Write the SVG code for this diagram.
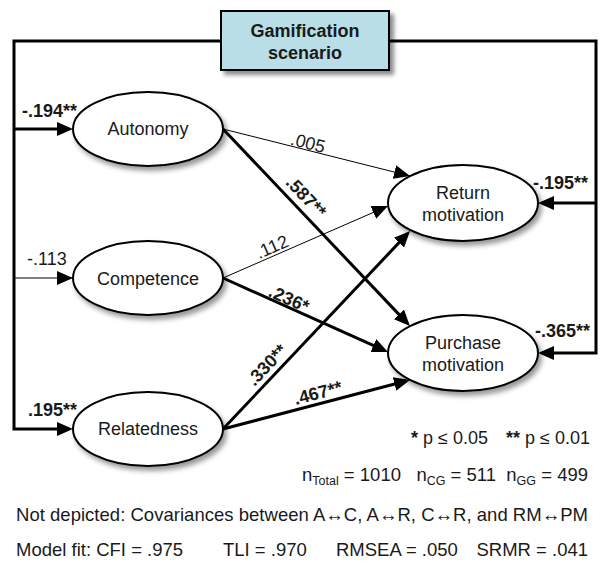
<svg xmlns="http://www.w3.org/2000/svg" width="604" height="563" viewBox="0 0 604 563">
<style>
text{font-family:"Liberation Sans",Arial,sans-serif;font-size:18px;fill:#1a1a1a}
.b{font-weight:bold}
.node ellipse{fill:#fff;stroke:#000;stroke-width:2}
.thick{stroke:#000;stroke-width:3;fill:none}
.thin{stroke:#000;stroke-width:1;fill:none}
.mid{text-anchor:middle}
.end{text-anchor:end}
.note{font-size:18.5px}
.sub{font-size:12.5px}
</style>
<defs>
<filter id="sh" x="-20%" y="-20%" width="150%" height="170%">
<feDropShadow dx="3" dy="4" stdDeviation="2.5" flood-color="#000" flood-opacity="0.4"/>
</filter>
<filter id="shb" x="-10%" y="-20%" width="130%" height="160%">
<feDropShadow dx="4" dy="4" stdDeviation="2" flood-color="#000" flood-opacity="0.45"/>
</filter>
<marker id="ak" markerWidth="16" markerHeight="14" refX="12" refY="7" orient="auto" markerUnits="userSpaceOnUse">
<path d="M0,0 L16,7 L0,14 z" fill="#000"/>
</marker>
<marker id="at" markerWidth="16" markerHeight="14" refX="16" refY="7" orient="auto" markerUnits="userSpaceOnUse">
<path d="M0,0 L16,7 L0,14 z" fill="#000"/>
</marker>
</defs>

<g id="connectors">
<path class="thick" d="M222,41 H14 V429 H69" marker-end="url(#ak)"/>
<path class="thick" d="M14,129 H69" marker-end="url(#ak)"/>
<path class="thin" d="M14,278 H73" marker-end="url(#at)"/>
<path class="thick" d="M389,41 H596 V353 H542" marker-end="url(#ak)"/>
<path class="thick" d="M596,203 H542" marker-end="url(#ak)"/>
<path class="thin" d="M223,129 L410,176" marker-end="url(#at)"/>
<path class="thick" d="M223,129 L407.2,323.1" marker-end="url(#ak)"/>
<path class="thin" d="M223,278 L388,206" marker-end="url(#at)"/>
<path class="thick" d="M223,278 L384.3,350.4" marker-end="url(#ak)"/>
<path class="thick" d="M223,429 L407.3,233.9" marker-end="url(#ak)"/>
<path class="thick" d="M223,429 L406.1,381" marker-end="url(#ak)"/>
</g>

<g id="labels">
<text class="b" x="22" y="117">-.194**</text>
<text x="27" y="265">-.113</text>
<text class="b" x="28" y="416">.195**</text>
<text class="b" x="533" y="189">-.195**</text>
<text class="b" x="535" y="337">-.365**</text>
<text class="mid" transform="translate(308,143) rotate(14.1)" y="6">.005</text>
<text class="mid b" transform="translate(306,197) rotate(46.5)" y="6">.587**</text>
<text class="mid" transform="translate(272,247) rotate(-23.6)" y="6">.112</text>
<text class="mid b" transform="translate(289,299) rotate(24.2)" y="6">.236*</text>
<text class="mid b" transform="translate(267,365) rotate(-46.6)" y="6">.330**</text>
<text class="mid b" transform="translate(318,393) rotate(-14.7)" y="6">.467**</text>
</g>

<g id="gamification">
<rect x="221" y="11" width="168" height="59" fill="#b9dee7" stroke="#000" stroke-width="2" filter="url(#shb)"/>
<text class="b mid" x="305" y="37">Gamification</text>
<text class="b mid" x="305" y="59">scenario</text>
</g>

<g id="autonomy" class="node">
<ellipse cx="148" cy="129" rx="75" ry="37" filter="url(#sh)"/>
<text class="mid" x="148" y="135">Autonomy</text>
</g>
<g id="competence" class="node">
<ellipse cx="148" cy="278" rx="75" ry="37" filter="url(#sh)"/>
<text class="mid" x="148" y="284.5">Competence</text>
</g>
<g id="relatedness" class="node">
<ellipse cx="148" cy="429" rx="75" ry="37" filter="url(#sh)"/>
<text class="mid" x="148" y="435">Relatedness</text>
</g>
<g id="return" class="node">
<ellipse cx="463" cy="203" rx="75" ry="38" filter="url(#sh)"/>
<text class="mid" x="463" y="199">Return</text>
<text class="mid" x="463" y="221">motivation</text>
</g>
<g id="purchase" class="node">
<ellipse cx="463" cy="353" rx="75" ry="38" filter="url(#sh)"/>
<text class="mid" x="463" y="349">Purchase</text>
<text class="mid" x="463" y="371">motivation</text>
</g>

<g id="notes">
<text x="411" y="444"><tspan class="b">*</tspan> p ≤ 0.05</text>
<text class="end" x="590" y="444"><tspan class="b">**</tspan> p ≤ 0.01</text>
<text class="end note" x="588" y="481" xml:space="preserve">n<tspan class="sub" dy="4">Total</tspan><tspan dy="-4"> = 1010   n</tspan><tspan class="sub" dy="4">CG</tspan><tspan dy="-4"> = 511  n</tspan><tspan class="sub" dy="4">GG</tspan><tspan dy="-4"> = 499</tspan></text>
<text class="note" x="16" y="521" textLength="572" lengthAdjust="spacing">Not depicted: Covariances between A↔C, A↔R, C↔R, and RM↔PM</text>
<text class="note" x="16" y="556">Model fit: CFI = .975</text>
<text class="note" x="223" y="556">TLI = .970</text>
<text class="note" x="336" y="556">RMSEA = .050</text>
<text class="note end" x="588" y="556">SRMR = .041</text>
</g>
</svg>
